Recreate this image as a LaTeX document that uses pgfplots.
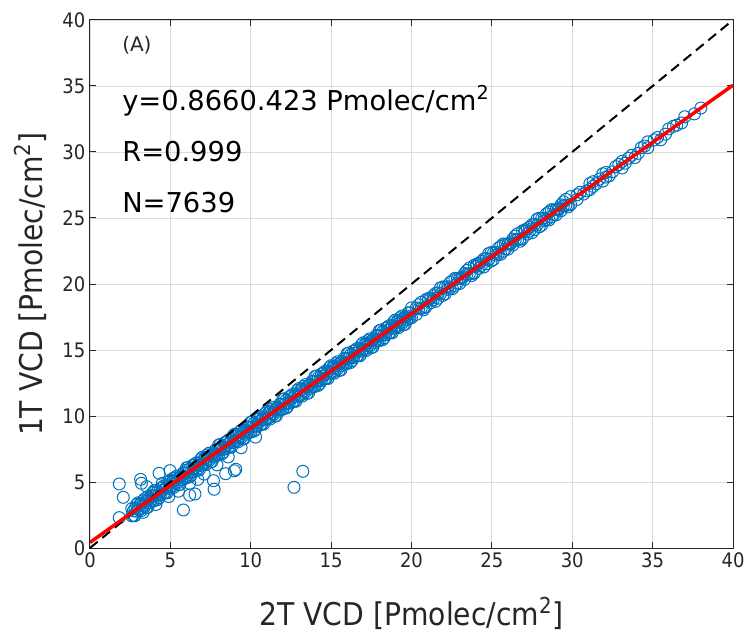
\documentclass[border=0pt]{standalone}
\usepackage{pgfplots}
\pgfplotsset{compat=1.18}
\usepackage{fontspec}
\setmainfont{DejaVu Sans}
\newfontfamily\labfont[FakeStretch=0.9]{DejaVu Sans}
\definecolor{mblue}{RGB}{0,114,189}
\definecolor{axgray}{RGB}{38,38,38}
\begin{document}
\begin{tikzpicture}
\begin{axis}[
  scale only axis, width=482.25pt, height=396pt,
  xmin=0, xmax=40, ymin=0, ymax=40,
  xtick={0,5,...,40}, ytick={0,5,...,40},
  clip marker paths=true,
  grid=major, major grid style={color=black!14, line width=0.6pt},
  tick align=inside, xtick pos=both, ytick pos=both,
  major tick length=4.5pt,
  axis line style={axgray, line width=0.75pt},
  tick style={axgray, line width=0.75pt},
  ticklabel style={font=\labfont\fontsize{15}{18}\selectfont, text=axgray},
  /pgf/number format/assume math mode=true,
  xlabel={2T VCD [Pmolec/cm\textsuperscript{2}]},
  ylabel={1T VCD [Pmolec/cm\textsuperscript{2}]},
  label style={font=\labfont\fontsize{23.5}{28}\selectfont, text=axgray},
  xlabel style={at={(axis description cs:0.5,-0.1477)}, anchor=base},
  ylabel style={at={(axis description cs:-0.0933,0.5)}, anchor=center},
]
\addplot[only marks, mark=o, mark size=4.5pt, mark options={mblue, line width=0.75pt}] table {
x y
2.6 2.98
2.6 2.43
2.8 3.00
2.8 2.45
3.0 3.42
3.0 2.92
3.2 3.39
3.2 2.84
3.4 3.72
3.4 3.17
3.6 3.64
3.6 3.09
3.8 3.96
3.8 3.56
4.0 4.34
4.0 3.59
4.2 4.26
4.2 3.66
4.4 4.53
4.4 4.03
4.6 4.71
4.6 4.16
4.8 4.73
4.8 4.18
5.0 5.15
5.0 4.65
5.2 5.13
5.2 4.58
5.4 5.45
5.4 4.90
5.6 5.37
5.6 4.82
5.8 5.70
5.8 5.30
6.0 6.07
6.0 5.32
6.2 5.99
6.2 5.39
6.4 6.27
6.4 5.77
6.6 6.44
6.6 5.89
6.8 6.46
6.8 5.91
7.0 6.89
7.0 6.39
7.2 6.86
7.2 6.31
7.4 7.18
7.4 6.63
7.6 7.11
7.6 6.56
7.8 7.43
7.8 7.03
8.0 7.80
8.0 7.05
8.2 7.72
8.2 7.12
8.4 8.00
8.4 7.50
8.6 8.17
8.6 7.62
8.8 8.19
8.8 7.64
9.0 8.62
9.0 8.12
9.2 8.59
9.2 8.04
9.4 8.91
9.4 8.36
9.6 8.84
9.6 8.29
9.8 9.16
9.8 8.76
10.0 9.53
10.0 8.78
10.2 9.46
10.2 8.86
10.4 9.73
10.4 9.23
10.6 9.90
10.6 9.35
10.8 9.93
10.8 9.38
11.0 10.35
11.0 9.85
11.2 10.32
11.2 9.77
11.4 10.65
11.4 10.10
11.6 10.57
11.6 10.02
11.8 10.89
11.8 10.49
12.0 11.27
12.0 10.52
12.2 11.19
12.2 10.59
12.4 11.46
12.4 10.96
12.6 11.64
12.6 11.09
12.8 11.66
12.8 11.11
13.0 12.08
13.0 11.58
13.2 12.05
13.2 11.50
13.4 12.38
13.4 11.83
13.6 12.30
13.6 11.75
13.8 12.62
13.8 12.22
14.0 13.00
14.0 12.25
14.2 12.92
14.2 12.32
14.4 13.19
14.4 12.69
14.6 13.37
14.6 12.82
14.8 13.39
14.8 12.84
15.0 13.81
15.0 13.31
15.2 13.79
15.2 13.24
15.4 14.11
15.4 13.56
15.6 14.03
15.6 13.48
15.8 14.36
15.8 13.96
16.0 14.73
16.0 13.98
16.2 14.65
16.2 14.05
16.4 14.93
16.4 14.43
16.6 15.10
16.6 14.55
16.8 15.12
16.8 14.57
17.0 15.55
17.0 15.05
17.2 15.52
17.2 14.97
17.4 15.84
17.4 15.29
17.6 15.77
17.6 15.22
17.8 16.09
17.8 15.69
18.0 16.46
18.0 15.71
18.2 16.38
18.2 15.78
18.4 16.66
18.4 16.16
18.6 16.83
18.6 16.28
18.8 16.85
18.8 16.30
19.0 17.28
19.0 16.78
19.2 17.25
19.2 16.70
19.4 17.57
19.4 17.02
19.6 17.50
19.6 16.95
19.8 17.82
19.8 17.42
20.0 18.19
20.0 17.44
2.7 2.81
2.7 2.46
2.9 2.79
2.9 3.29
3.1 3.31
3.1 2.91
3.3 3.23
3.3 3.58
3.5 3.55
3.5 3.05
3.7 3.43
3.7 3.73
3.9 3.95
3.9 3.55
4.1 3.97
4.1 4.37
4.3 4.05
4.3 3.80
4.5 4.57
4.5 4.37
4.7 4.54
4.7 4.19
4.9 4.52
4.9 5.02
5.1 5.04
5.1 4.64
5.3 4.96
5.3 5.31
5.5 5.29
5.5 4.79
5.7 5.16
5.7 5.46
5.9 5.68
5.9 5.28
6.1 5.71
6.1 6.11
6.3 5.78
6.3 5.53
6.5 6.30
6.5 6.10
6.7 6.28
6.7 5.93
6.9 6.25
6.9 6.75
7.1 6.77
7.1 6.37
7.3 6.70
7.3 7.05
7.5 7.02
7.5 6.52
7.7 6.89
7.7 7.19
7.9 7.42
7.9 7.02
8.1 7.44
8.1 7.84
8.3 7.51
8.3 7.26
8.5 8.03
8.5 7.83
8.7 8.01
8.7 7.66
8.9 7.98
8.9 8.48
9.1 8.50
9.1 8.10
9.3 8.43
9.3 8.78
9.5 8.75
9.5 8.25
9.7 8.62
9.7 8.92
9.9 9.15
9.9 8.75
10.1 9.17
10.1 9.57
10.3 9.24
10.3 8.99
10.5 9.77
10.5 9.57
10.7 9.74
10.7 9.39
10.9 9.71
10.9 10.21
11.1 10.24
11.1 9.84
11.3 10.16
11.3 10.51
11.5 10.48
11.5 9.98
11.7 10.36
11.7 10.66
11.9 10.88
11.9 10.48
12.1 10.90
12.1 11.30
12.3 10.98
12.3 10.73
12.5 11.50
12.5 11.30
12.7 11.47
12.7 11.12
12.9 11.45
12.9 11.95
13.1 11.97
13.1 11.57
13.3 11.89
13.3 12.24
13.5 12.21
13.5 11.71
13.7 12.09
13.7 12.39
13.9 12.61
13.9 12.21
14.1 12.63
14.1 13.03
14.3 12.71
14.3 12.46
14.5 13.23
14.5 13.03
14.7 13.20
14.7 12.85
14.9 13.18
14.9 13.68
15.1 13.70
15.1 13.30
15.3 13.62
15.3 13.97
15.5 13.95
15.5 13.45
15.7 13.82
15.7 14.12
15.9 14.34
15.9 13.94
16.1 14.37
16.1 14.77
16.3 14.44
16.3 14.19
16.5 14.96
16.5 14.76
16.7 14.94
16.7 14.59
16.9 14.91
16.9 15.41
17.1 15.43
17.1 15.03
17.3 15.36
17.3 15.71
17.5 15.68
17.5 15.18
17.7 15.55
17.7 15.85
17.9 16.08
17.9 15.68
18.1 16.10
18.1 16.50
18.3 16.17
18.3 15.92
18.5 16.69
18.5 16.49
18.7 16.67
18.7 16.32
18.9 16.64
18.9 17.14
19.1 17.16
19.1 16.76
19.3 17.09
19.3 17.44
19.5 17.41
19.5 16.91
19.7 17.28
19.7 17.58
19.9 17.81
19.9 17.41
20.3 18.20
20.3 17.70
20.6 18.16
20.6 18.61
20.9 18.82
20.9 18.27
21.2 18.58
21.2 18.93
21.5 19.29
21.5 18.69
21.8 19.25
21.8 19.70
22.1 19.76
22.1 19.26
22.4 19.67
22.4 20.12
22.7 20.43
22.7 19.88
23.0 20.04
23.0 20.44
23.3 20.80
23.3 20.35
23.6 20.76
23.6 21.21
23.9 21.42
23.9 20.82
24.2 21.18
24.2 21.58
24.5 21.89
24.5 21.29
24.8 21.85
24.8 22.30
25.1 22.36
25.1 21.86
25.4 22.27
25.4 22.72
25.7 23.03
25.7 22.48
26.0 22.64
26.0 23.04
26.3 23.40
26.3 22.95
26.6 23.36
26.6 23.81
26.9 24.02
26.9 23.42
27.2 23.78
27.2 24.18
27.5 24.49
27.5 23.89
27.8 24.45
27.8 24.90
28.1 24.96
28.1 24.46
28.4 24.87
28.4 25.32
28.7 25.63
28.7 25.08
29.0 25.24
29.0 25.64
29.3 26.00
29.3 25.55
29.6 25.96
29.6 26.41
29.9 26.62
29.9 26.02
20.45 18.13
20.45 18.43
20.75 18.19
20.75 18.04
21.05 18.90
21.05 18.75
21.35 18.81
21.35 19.11
21.65 19.32
21.65 18.92
21.95 19.13
21.95 19.78
22.25 19.79
22.25 19.59
22.55 20.25
22.55 19.65
22.85 20.06
22.85 20.41
23.15 20.52
23.15 20.42
23.45 20.73
23.45 21.03
23.75 20.79
23.75 20.64
24.05 21.50
24.05 21.35
24.35 21.41
24.35 21.71
24.65 21.92
24.65 21.52
24.95 21.73
24.95 22.38
25.25 22.39
25.25 22.19
25.55 22.85
25.55 22.25
25.85 22.66
25.85 23.01
26.15 23.12
26.15 23.02
26.45 23.33
26.45 23.63
26.75 23.39
26.75 23.24
27.05 24.10
27.05 23.95
27.35 24.01
27.35 24.31
27.65 24.52
27.65 24.12
27.95 24.33
27.95 24.98
28.25 24.99
28.25 24.79
28.55 25.45
28.55 24.85
28.85 25.26
28.85 25.61
29.15 25.72
29.15 25.62
29.45 25.93
29.45 26.23
29.75 25.99
29.75 25.84
30.3 26.76
30.3 26.41
30.5 26.95
30.7 26.81
30.9 27.05
31.1 27.61
31.1 27.16
31.3 27.40
31.3 27.75
31.5 27.60
31.7 27.95
31.9 28.35
31.9 27.80
32.1 28.45
32.1 28.10
32.3 28.20
32.5 28.50
32.7 28.89
32.9 29.05
33.1 28.79
33.1 29.29
33.3 29.15
33.5 29.53
33.7 29.75
33.9 29.58
34.1 29.90
34.3 30.33
34.5 30.45
34.7 30.32
34.7 30.77
35.1 30.92
35.3 31.10
35.5 30.92
35.8 31.35
36.0 31.75
36.3 31.95
36.5 32.03
36.8 32.20
37.0 32.67
37.6 32.89
38.0 33.33
3.3 2.70
4.1 3.30
4.9 3.90
5.5 4.30
6.2 4.90
6.7 5.20
7.1 5.60
7.9 6.30
8.6 6.90
9.4 7.60
10.3 8.40
3.9 4.20
4.5 4.90
5.2 5.30
6.0 5.90
3.6 3.90
1.82 4.85
2.07 3.84
1.82 2.30
3.15 5.20
3.20 4.90
4.30 5.66
4.98 5.86
5.81 2.88
7.72 4.45
8.44 5.63
9.07 5.96
8.98 5.85
12.69 4.60
13.24 5.81
6.53 4.09
6.20 4.00
7.68 5.10
3.53 4.65
};
\addplot[black, line width=1.5pt, dash pattern=on 7.5pt off 4.5pt] coordinates {(0,0) (40,40)};
\addplot[red, line width=2.6pt] coordinates {(0,0.423) (40,35.063)};
\node[anchor=base west, font=\fontsize{15}{18}\selectfont, text=axgray, inner sep=0pt] at (axis cs:1.99,37.58) {(A)};
\node[anchor=base west, font=\fontsize{20.5}{24}\selectfont, text=black, inner sep=0pt] at (axis cs:1.99,33.18) {y=0.8660.423 Pmolec/cm\textsuperscript{2}};
\node[anchor=base west, font=\fontsize{20.5}{24}\selectfont, text=black, inner sep=0pt] at (axis cs:1.99,29.27) {R=0.999};
\node[anchor=base west, font=\fontsize{20.5}{24}\selectfont, text=black, inner sep=0pt] at (axis cs:1.99,25.38) {N=7639};
\end{axis}
\pgfresetboundingbox
\path[use as bounding box] ([xshift=-67.5pt,yshift=-65.25pt]current axis.south west) rectangle ([xshift=11.25pt,yshift=15pt]current axis.north east);
\end{tikzpicture}
\end{document}
